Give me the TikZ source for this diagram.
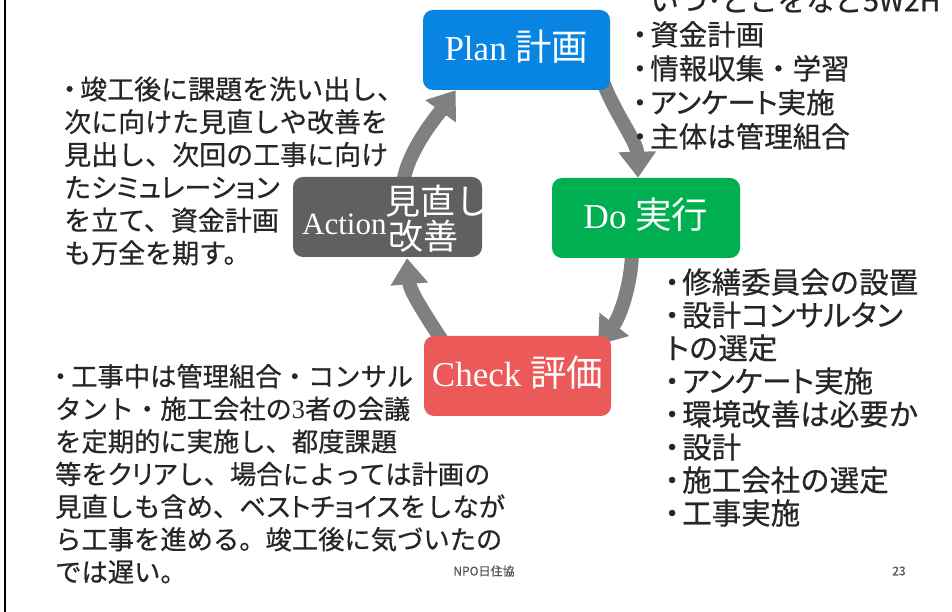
\documentclass[tikz,border=0pt]{standalone}
\usepackage{fontspec}
\setmainfont{Liberation Serif}
\newfontfamily\jp{Noto Sans CJK JP}
\newfontfamily\jpt[FakeBold=0.6]{Noto Sans CJK JP}
\usetikzlibrary{arrows.meta,backgrounds}
\definecolor{planblue}{RGB}{8,132,226}
\definecolor{dogreen}{RGB}{0,176,80}
\definecolor{checkred}{RGB}{236,89,89}
\definecolor{actgray}{RGB}{96,96,96}
\definecolor{arrgray}{RGB}{128,128,128}
\definecolor{txt}{RGB}{38,38,38}
\definecolor{foottxt}{RGB}{85,85,85}
\newcommand\bul{\makebox[16pt][l]{\hspace{-0.3em}・}}
\newcommand\nob{\makebox[16pt][l]{}}
\newcommand\kp[1]{{\addfontfeatures{RawFeature=+palt}#1}}
\begin{document}
\begin{tikzpicture}[x=1pt,y=1pt,
  box/.style={rounded corners=10pt, minimum width=188pt, minimum height=80pt, inner sep=0pt,
    text=white, text height=24pt, text depth=2pt, font=\fontsize{35}{40}\selectfont},
  cyc/.style={line width=14pt, draw=arrgray, -{Triangle[width=36pt,length=26pt]}},
  blk/.style={anchor=north west, inner sep=0pt, align=left, text=txt},
  boxlbl/.style={anchor=base west, inner sep=0pt, text=white},
  foot/.style={inner sep=0pt, text=foottxt, font=\jpt\fontsize{12}{14}\selectfont}]
\useasboundingbox (0,0) rectangle (952,612);
\begin{scope}[on background layer]
  \fill[white] (0,0) rectangle (952,612);
\end{scope}
\clip (0,0) rectangle (952,612);
\draw[line width=2.5pt] (5,0) -- (5,612);

% boxes
\node[box, fill=planblue, minimum width=187pt] (plan) at (516.5,562) {Plan {\jp\fontsize{36.5}{40}\selectfont 計画}};
\node[box, fill=dogreen] (do) at (646,394) {Do {\jp\fontsize{36.5}{40}\selectfont 実行}};
\node[box, fill=checkred, minimum width=187pt] (check) at (517.5,236) {Check {\jp\fontsize{36.5}{40}\selectfont 評価}};
\node[box, fill=actgray, minimum width=189pt] (action) at (387.5,395) {};
\node[boxlbl, font=\fontsize{31}{35}\selectfont] (actlat) at (302,377) {Action};
\node[boxlbl, font=\jp\fontsize{35}{35}\selectfont] (actjpa) at (385,397) {見直し};
\node[boxlbl, font=\jp\fontsize{35}{35}\selectfont] (actjpb) at (388,362) {改善};

% cycle arrows
\begin{scope}[on background layer]
\draw[cyc] ([shift={(-7,8)}]plan.south east) .. controls +(11,-30) and +(-1,36) .. ([xshift=-8]do.north);
\draw[cyc] ([shift={(-14,8)}]do.south) .. controls +(0,-32) and +(22,28) .. ([shift={(-13,-9)}]check.north east);
\draw[cyc] ([shift={(21,-9)}]check.north west) .. controls +(-15,23) and +(3,-34) .. ([shift={(19.5,-1)}]action.south);
\draw[cyc] ([shift={(15.5,-8)}]action.north) .. controls +(3,33) and +(-16,-22) .. ([xshift=33]plan.south west);
\end{scope}

% text blocks
\node[blk, font=\jpt\fontsize{27}{32.8}\selectfont] (acttext) at (64,538)
{\rule{0pt}{25pt}\bul 竣工後に課題を洗い出し、\\
次に向けた見直しや改善を\\
見出し、次回の工事に向け\\
た\kp{シミュレーション}\\
を立て、資金計画\\
も万全を期す。};

\node[blk, font=\jpt\fontsize{28.5}{34}\selectfont] (plantext) at (634,628)
{\rule{0pt}{27pt}\nob いつ･どこをなど5W2H\\
\bul 資金計画\\
\bul 情報収集・学習\\
\bul \kp{アンケート}実施\\
\bul 主体は管理組合};

\node[blk, font=\jpt\fontsize{29.5}{33}\selectfont] (dotext) at (666,347)
{\rule{0pt}{28pt}\bul 修繕委員会の設置\\
\bul 設計\kp{コンサルタン}\\
\kp{ト}の選定\\
\bul \kp{アンケート}実施\\
\bul 環境改善は必要か\\
\bul 設計\\
\bul 施工会社の選定\\
\bul 工事実施};

\node[blk, font=\jpt\fontsize{26.3}{32.6}\selectfont] (checktext) at (55,251)
{\rule{0pt}{25pt}\bul 工事中は管理組合・コンサル\\
タント・施工会社の{\rmfamily 3}者の会議\\
を定期的に実施し、都度課題\\
等を\kp{クリア}し、場合によっては計画の\\
見直しも含め、\kp{ベストチョイス}をしなが\\
ら工事を進める。竣工後に気づいたの\\
では遅い。};

% footer
\node[foot] (npo) at (484,41) {NPO日住協};
\node[foot] (pg) at (899,41) {23};
\end{tikzpicture}
\end{document}
